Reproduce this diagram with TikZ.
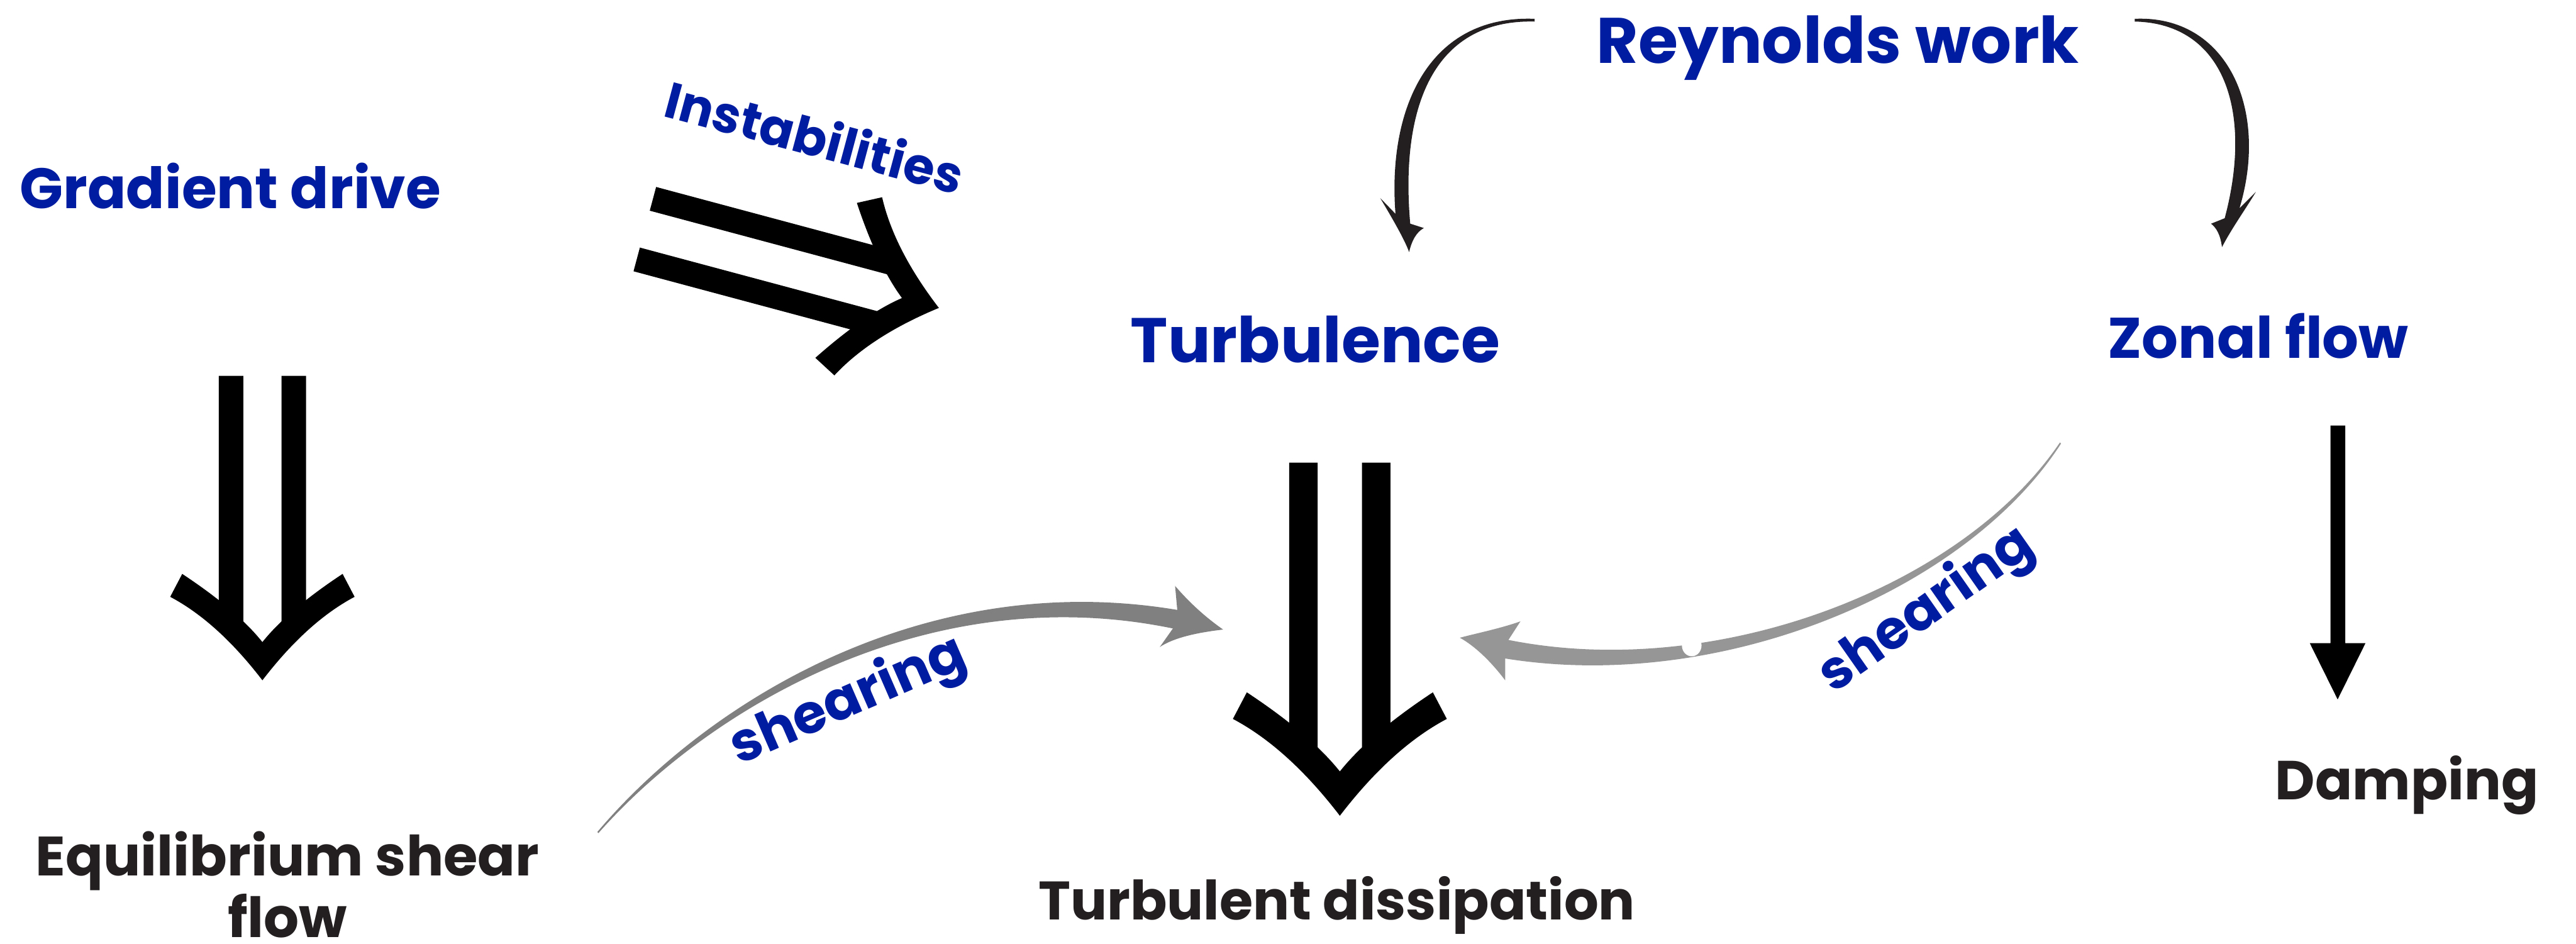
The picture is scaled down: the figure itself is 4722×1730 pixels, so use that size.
\documentclass[tikz,border=0pt]{standalone}
\usepackage{fontspec}
\usepackage{graphicx}
\setmainfont{Poppins}
\definecolor{labelblue}{RGB}{0,28,160}
\definecolor{labeldark}{RGB}{35,31,32}
\definecolor{arcdark}{RGB}{35,31,32}
\definecolor{shearA}{RGB}{128,128,128}
\definecolor{shearB}{RGB}{150,150,150}
% bold label stretched to a given width
\newcommand\fitto[2]{\resizebox{#1}{!}{\bfseries #2}}
\tikzset{
  bluelabel/.style={text=labelblue, inner sep=0pt, anchor=base west},
  darklabel/.style={text=labeldark, inner sep=0pt, anchor=base west},
  % double-shafted arrow with a curved chevron head; origin = top centre, pointing along +y
  dblarrow/.pic={
    \fill (-80,0) -- (-35,0) -- (-35,458) -- (-80,420) -- cycle;
    \fill (35,0) -- (80,0) -- (80,420) -- (35,458) -- cycle;
    \fill (-147,363) .. controls (-80.3,407) and (-31.3,448.7) .. (0,488)
          .. controls (31.3,448.7) and (80.3,407) .. (147,363)
          -- (169,405) .. controls (111,435.7) and (54.7,486.7) .. (0,558)
          .. controls (-54.7,486.7) and (-111,435.7) .. (-169,405) -- cycle;
  }
}
\begin{document}
\begin{tikzpicture}[x=0.01cm,y=-0.01cm]
\fill[white] (0,0) rectangle (4722,1730);
\useasboundingbox (0,0) rectangle (4722,1730);

% labels
\node[bluelabel] (gradient) at (36,382) {\fitto{7.71cm}{Gradient drive}};
\node[bluelabel, rotate=-15] (instab) at (1213,212) {\fitto{5.60cm}{Instabilities}};
\node[bluelabel] (reynolds) at (2926,116) {\fitto{8.84cm}{Reynolds work}};
\node[bluelabel] (turb) at (2072,665) {\fitto{6.77cm}{Turbulence}};
\node[bluelabel] (zonal) at (3863,656) {\fitto{5.51cm}{Zonal flow}};
\node[darklabel] (damping) at (4170,1466) {\fitto{4.82cm}{Damping}};
\node[darklabel] (dissip) at (1903,1686) {\fitto{10.93cm}{Turbulent dissipation}};
\node[text=labeldark, inner sep=0pt, anchor=base] (equil) at (527,1605)
  {\fitto{9.22cm}{\def\arraystretch{0.91}\begin{tabular}[t]{@{}c@{}}Equilibrium shear\\flow\end{tabular}}};
\node[bluelabel, rotate=23.5] (shearL) at (1355,1403) {\fitto{4.59cm}{shearing}};
\node[bluelabel, rotate=35] (shearR) at (3360,1272) {\fitto{4.55cm}{shearing}};

% double arrows
\pic at (481,689) {dblarrow};
\pic[rotate=75] at (1182,420) {dblarrow};
\pic[scale=1.16] at (2456,848) {dblarrow};

% Reynolds work feeding turbulence and zonal flow
\fill[arcdark] (2813,34.5) .. controls (2618,27) and (2543,200) .. (2558,392)
  -- (2530,363) .. controls (2555,405) and (2575,440) .. (2583,462)
  .. controls (2588,440) and (2597,425) .. (2610,418)
  -- (2585,410) .. controls (2567,205) and (2622,35) .. (2813,39.5) -- cycle;
\fill[arcdark] (3913,34.5) .. controls (4082,27) and (4160,200) .. (4105,382)
  -- (4135,352) .. controls (4115,385) and (4090,420) .. (4073,453)
  .. controls (4070,430) and (4063,418) .. (4053,410)
  -- (4078,400) .. controls (4130,205) and (4078,43) .. (3913,39.5) -- cycle;

% zonal flow damping
\fill (4272,780) -- (4299,780) -- (4299,1179) -- (4336,1179) -- (4285,1282)
  -- (4234,1179) -- (4272,1179) -- cycle;

% shearing arrows
\fill[shearA] (1095,1525) .. controls (1296,1287) and (1694,1040) .. (2158,1118)
  -- (2154,1074) .. controls (2185,1110) and (2215,1135) .. (2242,1154)
  .. controls (2190,1160) and (2150,1170) .. (2126,1186)
  -- (2150,1152) .. controls (1706,1060) and (1304,1293) .. (1097,1527) -- cycle;
\fill[shearB] (3776,811) .. controls (3596,1077) and (3145,1249) .. (2765,1173)
  -- (2787,1139) .. controls (2750,1152) and (2710,1160) .. (2676,1169)
  .. controls (2705,1185) and (2735,1215) .. (2759,1247)
  -- (2759,1207) .. controls (3155,1271) and (3604,1083) .. (3778,813) -- cycle;
\fill[white] (3101,1183) ellipse [x radius=18, y radius=20];
\end{tikzpicture}
\end{document}
